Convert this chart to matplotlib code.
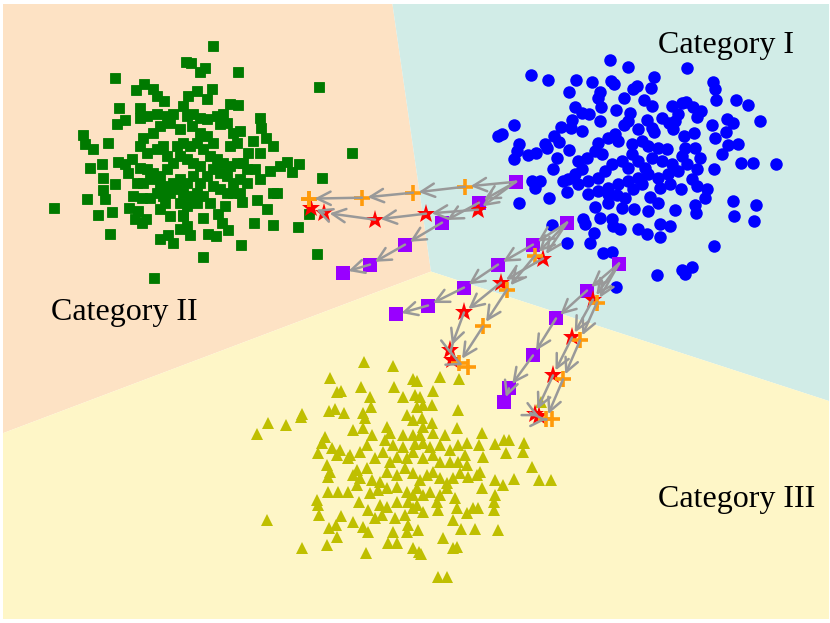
import matplotlib
matplotlib.use("Agg")
import matplotlib.pyplot as plt

# --- data (embedding coordinates, y grows downward) ---
cat1_x = [610, 628, 687, 531, 548, 576, 592, 611, 614, 654, 713, 715, 569, 600, 598, 624, 633, 637, 651, 644,
          652, 601, 575, 582, 589, 616, 630, 628, 647, 662, 672, 682, 686, 693, 701, 697, 678, 675, 669, 716,
          736, 748, 760, 727, 733, 712, 726, 715, 728, 738, 722, 741, 753, 776, 714, 700, 695, 694, 684, 673,
          654, 638, 624, 600, 572, 571, 561, 582, 514, 502, 498, 519, 517, 514, 528, 536, 545, 554, 559, 547,
          557, 569, 553, 532, 540, 535, 549, 563, 567, 519, 552, 567, 583, 585, 594, 590, 603, 612, 620, 613,
          638, 647, 660, 660, 670, 675, 695, 696, 648, 658, 650, 634, 622, 612, 600, 595, 608, 617, 633, 642,
          660, 670, 681, 692, 697, 705, 707, 697, 687, 682, 685, 667, 658, 648, 642, 632, 618, 608, 598, 595,
          587, 578, 582, 575, 568, 578, 588, 598, 605, 612, 622, 628, 638, 645, 652, 662, 672, 678, 668, 658,
          648, 638, 628, 618, 608, 598, 588, 608, 625, 602, 632, 652, 615, 733, 756, 734, 754, 714, 657, 682,
          692, 685, 616]
cat1_y = [59, 66, 67, 74, 79, 79, 81, 80, 83, 76, 81, 88, 91, 91, 97, 97, 88, 85, 87, 99,
          105, 106, 106, 112, 113, 109, 112, 120, 119, 117, 105, 102, 101, 106, 110, 116, 113, 120, 122, 99,
          99, 104, 120, 118, 122, 124, 131, 137, 144, 143, 153, 162, 162, 163, 168, 157, 147, 132, 135, 128,
          131, 128, 124, 120, 119, 127, 126, 130, 124, 133, 135, 143, 150, 158, 154, 152, 143, 135, 141, 147,
          157, 149, 168, 180, 180, 187, 197, 180, 191, 202, 224, 242, 218, 223, 232, 242, 252, 251, 228, 225,
          228, 233, 236, 223, 225, 209, 204, 212, 210, 202, 196, 208, 207, 218, 217, 206, 202, 194, 188, 183,
          187, 183, 188, 178, 185, 197, 188, 168, 163, 155, 147, 148, 147, 145, 140, 143, 140, 137, 142, 150,
          157, 160, 168, 173, 178, 183, 180, 177, 170, 163, 160, 167, 160, 167, 157, 160, 163, 170, 173, 177,
          173, 177, 180, 183, 187, 190, 193, 193, 197, 153, 153, 127, 133, 200, 204, 215, 220, 245, 274, 269,
          266, 273, 286]

cat2_x = [213, 186, 191, 200, 205, 238, 115, 319, 144, 136, 153, 157, 164, 212, 197, 188, 207, 230, 238, 119,
          117, 125, 140, 260, 261, 83, 85, 93, 108, 352, 299, 287, 280, 292, 90, 102, 118, 103, 115, 103,
          105, 87, 54, 98, 112, 110, 322, 270, 273, 253, 266, 260, 248, 243, 255, 260, 247, 240, 242, 257,
          267, 273, 277, 254, 273, 298, 241, 203, 154, 317, 173, 160, 168, 190, 208, 216, 228, 218, 225, 222,
          203, 183, 187, 180, 142, 135, 146, 138, 129, 128, 125, 132, 133, 142, 150, 160, 170, 165, 140, 147,
          157, 167, 173, 183, 187, 193, 200, 207, 217, 223, 227, 220, 233, 240, 237, 230, 213, 207, 200, 192,
          180, 170, 160, 153, 143, 140, 147, 157, 163, 167, 177, 183, 190, 197, 203, 210, 217, 223, 230, 237,
          247, 240, 233, 227, 220, 213, 207, 200, 193, 187, 180, 173, 167, 160, 153, 147, 140, 137, 143, 150,
          160, 167, 173, 180, 187, 193, 200, 197, 190, 183, 177, 170, 163, 157, 180, 187, 197, 203, 213, 220,
          227, 233, 210, 183, 309]
cat2_y = [45, 61, 62, 71, 67, 71, 77, 86, 83, 89, 88, 95, 100, 88, 90, 95, 98, 103, 104, 107,
          123, 119, 107, 117, 127, 134, 143, 148, 142, 152, 163, 161, 165, 171, 167, 163, 161, 177, 183, 189,
          198, 198, 207, 214, 211, 233, 177, 170, 145, 140, 137, 152, 152, 162, 168, 178, 182, 192, 201, 199,
          208, 192, 192, 222, 224, 226, 244, 256, 277, 253, 242, 238, 234, 234, 233, 235, 229, 213, 205, 222,
          217, 214, 225, 228, 222, 218, 218, 210, 207, 172, 163, 158, 195, 197, 197, 208, 215, 202, 117, 115,
          113, 115, 113, 105, 115, 113, 117, 118, 115, 113, 122, 123, 132, 130, 142, 145, 142, 135, 132, 125,
          128, 122, 125, 132, 137, 145, 152, 148, 145, 155, 145, 142, 145, 142, 148, 155, 158, 162, 165, 162,
          168, 178, 182, 175, 172, 168, 175, 165, 162, 158, 155, 162, 168, 175, 172, 168, 167, 182, 182, 178,
          185, 185, 182, 178, 182, 175, 182, 192, 195, 192, 188, 192, 195, 192, 202, 205, 202, 195, 185, 188,
          192, 192, 202, 215, 213]

cat3_x = [364, 393, 330, 413, 417, 440, 459, 341, 337, 361, 394, 370, 403, 415, 420, 433, 371, 363, 365, 329,
          335, 344, 302, 301, 268, 286, 257, 407, 417, 423, 432, 413, 422, 423, 432, 458, 457, 353, 363, 387,
          390, 403, 413, 420, 433, 445, 482, 495, 504, 509, 524, 523, 506, 532, 539, 551, 514, 503, 495, 483,
          479, 467, 458, 450, 440, 430, 423, 415, 403, 393, 385, 372, 367, 360, 350, 340, 332, 325, 322, 318,
          327, 330, 328, 337, 348, 357, 367, 375, 383, 390, 397, 407, 413, 423, 433, 440, 450, 458, 465, 467,
          480, 477, 468, 460, 453, 447, 440, 433, 427, 420, 413, 405, 397, 387, 380, 372, 360, 353, 357, 348,
          338, 328, 317, 318, 319, 267, 329, 336, 337, 327, 302, 341, 353, 363, 368, 366, 359, 368, 375, 382,
          387, 380, 370, 378, 387, 397, 397, 395, 393, 388, 397, 407, 408, 418, 405, 413, 408, 413, 407, 417,
          423, 430, 440, 437, 438, 423, 417, 447, 455, 457, 453, 467, 473, 478, 482, 495, 494, 494, 461, 475,
          498, 443, 453, 457, 413, 419, 421, 438, 447, 541]
cat3_y = [362, 366, 378, 379, 381, 377, 379, 391, 392, 387, 387, 397, 397, 395, 397, 391, 407, 413, 418, 411,
          409, 413, 414, 417, 423, 425, 434, 415, 407, 405, 405, 420, 418, 427, 423, 410, 428, 430, 428, 427,
          433, 435, 435, 435, 433, 435, 433, 444, 440, 440, 443, 452, 453, 467, 480, 480, 479, 485, 480, 457,
          445, 443, 445, 450, 445, 447, 443, 444, 447, 445, 440, 435, 445, 452, 455, 450, 448, 437, 443, 453,
          465, 472, 477, 455, 458, 470, 468, 458, 452, 462, 457, 458, 452, 458, 455, 462, 462, 462, 455, 465,
          472, 475, 477, 473, 478, 483, 478, 472, 475, 480, 473, 468, 475, 472, 482, 480, 478, 475, 485, 492,
          492, 492, 500, 505, 515, 520, 528, 525, 537, 545, 548, 516, 522, 527, 532, 553, 502, 510, 518, 515,
          507, 505, 493, 490, 488, 487, 502, 518, 532, 543, 543, 532, 525, 530, 515, 508, 502, 495, 492, 488,
          495, 492, 495, 502, 510, 512, 505, 488, 498, 508, 520, 513, 508, 508, 488, 495, 502, 510, 529, 529,
          530, 538, 548, 547, 548, 552, 554, 577, 577, 402]

# three starting samples, each followed along three paths
start_x = [516, 567, 619]
start_y = [181, 222, 263]

path_square_x = [[479, 442, 405, 370, 343], [533, 498, 464, 428, 396], [587, 556, 533, 509, 504]]
path_square_y = [[202, 222, 244, 264, 272], [244, 264, 287, 305, 314], [290, 318, 355, 388, 402]]
path_star_x = [[478, 426, 375, 324, 311], [543, 501, 464, 450, 452], [593, 572, 553, 535, 539]]
path_star_y = [[209, 213, 219, 212, 207], [258, 282, 312, 350, 360], [299, 337, 375, 414, 416]]
path_plus_x = [[465, 413, 362, 309, 309], [535, 507, 483, 459, 468], [597, 580, 563, 546, 552]]
path_plus_y = [[186, 192, 197, 198, 198], [255, 289, 326, 363, 367], [302, 340, 379, 419, 419]]

labels = ["Category I", "Category II", "Category III"]
label_x = [726, 124, 737]
label_y = [52, 320, 507]

# decision regions (outline vertices)
region_teal = [(392, 0), (830, 0), (830, 401), (431, 271)]
region_peach = [(0, 0), (392, 0), (431, 271), (0, 434)]
region_yellow = [(0, 434), (431, 271), (830, 401), (830, 623), (0, 623)]

fig = plt.figure(figsize=(8.3, 6.23), dpi=100)
ax = fig.add_axes([3 / 830, 4 / 623, 826 / 830, 615 / 623])
ax.set_xlim(3, 829)
ax.set_ylim(619, 3)
ax.axis("off")

for poly, col in [(region_peach, "#fde2c4"), (region_teal, "#d1ece7"), (region_yellow, "#fef6c7")]:
    ax.fill([p[0] for p in poly], [p[1] for p in poly], color=col, lw=0, zorder=0)

ax.plot(cat2_x, cat2_y, "s", color="#007a00", ms=7.5, mew=0.6, mec="#007a00", zorder=2)
ax.plot(cat1_x, cat1_y, "o", color="#0000ff", ms=9, mew=0, zorder=2)
ax.plot(cat3_x, cat3_y, "^", color="#bfbf00", ms=9, mew=0, zorder=2)

arrow_kw = dict(arrowstyle="->,head_length=0.6,head_width=0.3", color="#999999", lw=1.8,
                shrinkA=0, shrinkB=4, mutation_scale=16)

for i in range(3):
    for px, py, mk, col, ms, mew in [
        (path_square_x[i], path_square_y[i], "s", "#9900ff", 9.5, 0),
        (path_star_x[i], path_star_y[i], "*", "#ff0000", 14, 0),
        (path_plus_x[i], path_plus_y[i], "+", "#ff9a0a", 11, 2.6),
    ]:
        xs = [start_x[i]] + px
        ys = [start_y[i]] + py
        ax.plot(px, py, mk, color=col, ms=ms, mew=mew, zorder=3)
        for k in range(len(xs) - 1):
            ax.annotate("", xy=(xs[k + 1], ys[k + 1]), xytext=(xs[k], ys[k]),
                        arrowprops=arrow_kw, zorder=4)

ax.plot(start_x, start_y, "s", color="#9900ff", ms=9.5, mew=0, zorder=3)

for t, x, y in zip(labels, label_x, label_y):
    ax.text(x, y, t, ha="center", va="baseline", fontsize=23, family="Liberation Serif", zorder=5)

plt.savefig("out.png", dpi=100)
